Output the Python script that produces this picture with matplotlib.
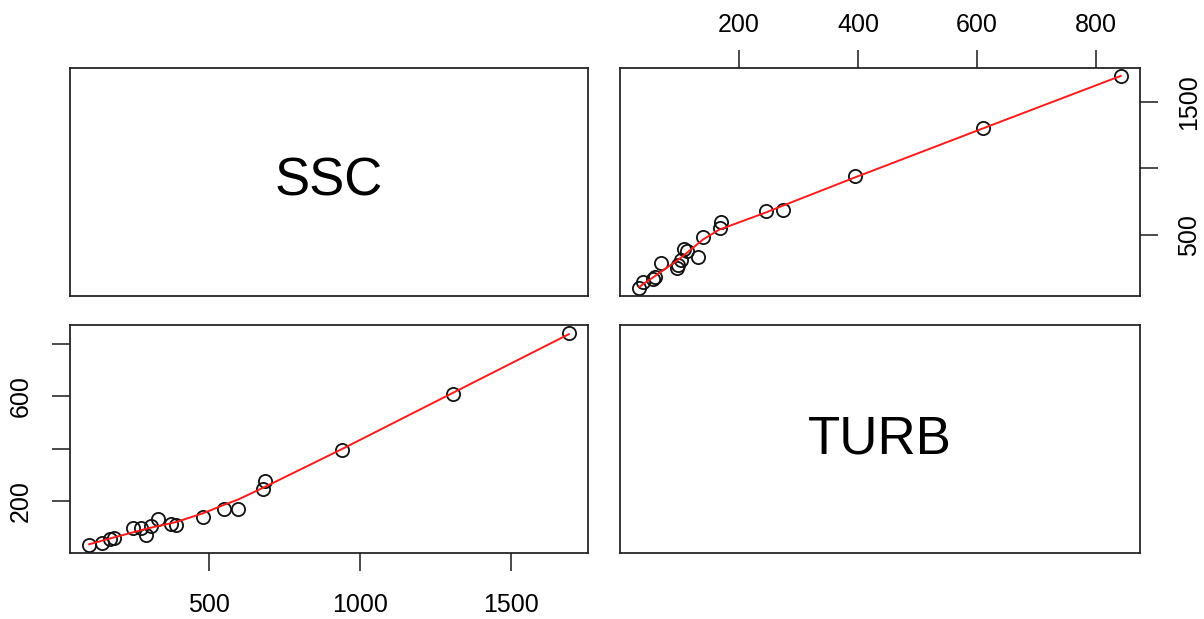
import numpy as np
import matplotlib
matplotlib.use("Agg")
import matplotlib.pyplot as plt

plt.rcParams['font.family'] = ['Liberation Sans', 'DejaVu Sans']

# Paired observations: suspended sediment concentration and turbidity
ssc = [104, 148, 172, 186, 250, 275, 292, 308, 333, 376, 392, 482,
       550, 595, 680, 687, 941, 1307, 1691]
turb = [33, 40, 56, 60, 96, 98, 70, 103, 131, 113, 108, 140,
        168, 170, 245, 275, 395, 610, 841]
var_names = ["SSC", "TURB"]

ssc_ticks = [500, 1000, 1500]
ssc_right_labels = ["500", "", "1500"]
turb_ticks_left = [200, 400, 600, 800]
turb_left_labels = ["200", "", "600", ""]
turb_ticks_top = [200, 400, 600, 800]
turb_top_labels = ["200", "400", "600", "800"]


def lowess(x, y, f=2/3, iters=3):
    """Locally weighted linear smoother with robustness iterations."""
    x = np.asarray(x, float)
    y = np.asarray(y, float)
    order = np.argsort(x)
    x, y = x[order], y[order]
    n = len(x)
    r = int(np.ceil(f * n))
    rw = np.ones(n)
    fit = np.zeros(n)
    for it in range(iters + 1):
        for i in range(n):
            d = np.abs(x - x[i])
            h = np.sort(d)[r - 1]
            if h <= 0:
                h = 1e-12
            u = d / h
            w = np.where(u < 1, (1 - u ** 3) ** 3, 0.0) * rw
            sw = w.sum()
            xm = (w * x).sum() / sw
            ym = (w * y).sum() / sw
            sxx = (w * (x - xm) ** 2).sum()
            if sxx > 1e-12 * max(1.0, (x.max() - x.min()) ** 2):
                b = (w * (x - xm) * (y - ym)).sum() / sxx
            else:
                b = 0.0
            fit[i] = ym + b * (x[i] - xm)
        if it == iters:
            break
        res = y - fit
        s = np.median(np.abs(res))
        if s == 0:
            break
        u = res / (6 * s)
        rw = np.where(np.abs(u) < 1, (1 - u ** 2) ** 2, 0.0)
    return x, fit


def ext(v):
    lo, hi = min(v), max(v)
    pad = 0.04 * (hi - lo)
    return lo - pad, hi + pad


W, H = 1204, 619
fig = plt.figure(figsize=(W / 100, H / 100), dpi=100)


def axes_px(x0, y0, x1, y1):
    return fig.add_axes([x0 / W, 1 - y1 / H, (x1 - x0) / W, (y1 - y0) / H])


ax_tl = axes_px(70, 68, 588, 296)
ax_tr = axes_px(620, 68, 1140, 296)
ax_bl = axes_px(70, 325, 588, 553)
ax_br = axes_px(620, 325, 1140, 553)

for ax in (ax_tl, ax_tr, ax_bl, ax_br):
    for sp in ax.spines.values():
        sp.set_linewidth(1.25)
        sp.set_color("#1e1e1e")
    ax.tick_params(length=13, width=1.25, color="#333333",
                   labelsize=18, pad=14)

# Diagonal name panels
for ax, name in ((ax_tl, var_names[0]), (ax_br, var_names[1])):
    ax.set_xticks([])
    ax.set_yticks([])
    ax.text(0.5, 0.5, name, transform=ax.transAxes, ha="center",
            va="center", fontsize=38)

marker_kw = dict(marker="o", markersize=9.5, markerfacecolor="none",
                 markeredgecolor="#111111", markeredgewidth=1.3,
                 linestyle="none")

# Top right: SSC against TURB
ax_tr.plot(turb, ssc, **marker_kw)
sx, sy = lowess(turb, ssc)
ax_tr.plot(sx, sy, color="#ff1a1a", linewidth=1.4)
ax_tr.set_xlim(*ext(turb))
ax_tr.set_ylim(*ext(ssc))
ax_tr.xaxis.tick_top()
ax_tr.yaxis.tick_right()
ax_tr.set_xticks(turb_ticks_top)
ax_tr.set_xticklabels(turb_top_labels)
ax_tr.set_yticks(ssc_ticks)
ax_tr.set_yticklabels(ssc_right_labels, rotation=90, va="center")
ax_tr.tick_params(axis="x", pad=9)

# Bottom left: TURB against SSC
ax_bl.plot(ssc, turb, **marker_kw)
sx, sy = lowess(ssc, turb)
ax_bl.plot(sx, sy, color="#ff1a1a", linewidth=1.4)
ax_bl.set_xlim(*ext(ssc))
ax_bl.set_ylim(*ext(turb))
ax_bl.set_xticks(ssc_ticks)
ax_bl.set_xticklabels([str(t) for t in ssc_ticks])
ax_bl.set_yticks(turb_ticks_left)
ax_bl.set_yticklabels(turb_left_labels, rotation=90, va="center")
ax_bl.tick_params(axis="x", pad=16)

fig.savefig("out.png", dpi=100, facecolor="white")
